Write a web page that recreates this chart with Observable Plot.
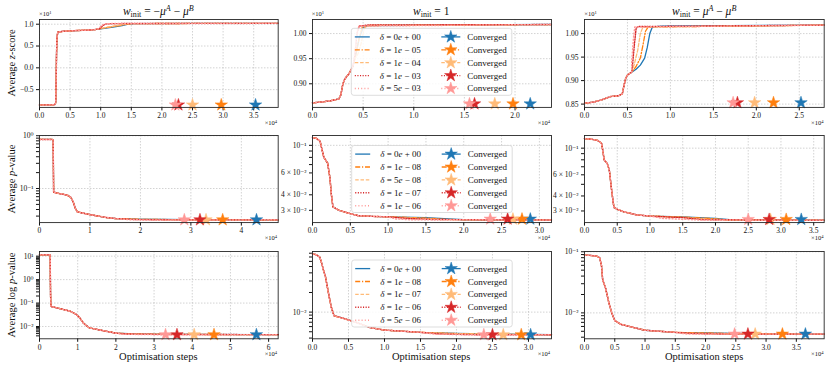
<!DOCTYPE html>
<html><head><meta charset="utf-8">
<script src="https://cdn.jsdelivr.net/npm/d3@7"></script>
<script src="https://cdn.jsdelivr.net/npm/@observablehq/plot@0.6"></script>
<style>
body{margin:0;background:#fff;}
#wrap{position:relative;width:830px;height:369px;overflow:hidden;font-family:"Liberation Serif","DejaVu Serif",serif;color:#111;}
#wrap svg.pn{position:absolute;}
.tx{position:absolute;white-space:nowrap;line-height:1;font-family:"Liberation Serif","DejaVu Serif",serif;font-weight:normal;color:#111;}
.tx sub,.tx sup{font-size:0.7em;line-height:0;}
.tx sub{vertical-align:-0.25em;}
.tx sup{vertical-align:0.55em;}
</style></head><body><div id="wrap"></div>
<script>
// ---------- data ----------
const COLORS = ["#1f77b4","#ff7f0e","#ffbb78","#d62728","#ff9896"];
const legend2 = ["0","1","1","1","5"], legend2e = ["+ 00","− 05","− 04","− 03","− 03"];
const legend5 = ["0","1","5","1","1"], legend5e = ["+ 00","− 08","− 08","− 07","− 06"];
const legend8 = ["0","1","1","1","5"], legend8e = ["+ 00","− 08","− 07","− 06","− 06"];

// panel 1: z-score, w_init = -muA - muB (x in 1e4, y in 1e1)
const p1_common = [[0,-0.85],[0.15,-0.85],[0.25,-0.845],[0.265,-0.8],[0.272,-0.3],[0.278,0.3],[0.285,0.7],[0.3,0.82],[0.4,0.84],[0.6,0.855],[0.8,0.865],[0.9,0.875]];
const p1_blue = [[1.0,0.895],[1.2,0.935],[1.35,0.97],[1.45,1.0],[1.55,1.015],[2.5,1.02],[3.9,1.02]];
const p1_orange = [[1.0,0.9],[1.2,0.945],[1.35,0.98],[1.45,1.005],[1.55,1.015],[3.9,1.02]];
const p1_ltorange = [[1.0,0.905],[1.2,0.955],[1.38,0.995],[1.5,1.015],[3.9,1.02]];
const p1_red = [[0.98,0.895],[1.03,0.96],[1.07,1.0],[1.15,1.012],[1.5,1.017],[3.9,1.02]];
const p1_pink = [[0.97,0.9],[1.02,0.975],[1.06,1.005],[1.2,1.015],[3.9,1.02]];
const stars1 = [3.53,2.97,2.5,2.27,2.22], starY1 = -0.85;

// panel 2: z-score, w_init = 1
const p2_common = [[0,0.862],[0.1,0.864],[0.2,0.867],[0.26,0.870],[0.28,0.878],[0.3,0.9],[0.32,0.91],[0.36,0.92],[0.4,0.935]];
const p2_blue = [[0.43,0.96],[0.46,0.99],[0.5,1.012],[0.55,1.016],[2.36,1.018]];
const p2_orange = [[0.43,0.96],[0.46,0.99],[0.49,1.012],[0.55,1.016],[2.36,1.018]];
const p2_ltorange = [[0.42,0.95],[0.45,0.96],[0.48,0.98],[0.51,1.01],[0.55,1.016],[2.36,1.018]];
const p2_red = [[0.42,0.96],[0.44,1.0],[0.46,1.015],[0.55,1.017],[2.36,1.018]];
const p2_pink = [[0.42,0.965],[0.44,1.005],[0.46,1.015],[2.36,1.018]];
const stars2 = [2.15,1.98,1.8,1.6,1.55], starY2 = 0.86;

// panel 3: z-score, w_init = muA - muB
const p3_common = [[0,0.852],[0.1,0.854],[0.2,0.859],[0.3,0.866],[0.4,0.868],[0.44,0.872],[0.46,0.89],[0.48,0.905],[0.5,0.912],[0.55,0.918]];
const p3_blue = [[0.6,0.924],[0.65,0.933],[0.7,0.948],[0.73,0.97],[0.76,1.0],[0.79,1.014],[0.9,1.016],[2.79,1.018]];
const p3_orange = [[0.6,0.93],[0.65,0.948],[0.68,0.975],[0.71,1.005],[0.74,1.014],[2.79,1.018]];
const p3_ltorange = [[0.58,0.935],[0.62,0.965],[0.65,1.0],[0.68,1.014],[2.79,1.018]];
const p3_red = [[0.56,0.935],[0.58,0.975],[0.6,1.01],[0.62,1.015],[2.79,1.018]];
const p3_pink = [[0.55,0.94],[0.57,0.99],[0.585,1.014],[2.79,1.018]];
const stars3 = [2.52,2.2,1.98,1.78,1.73], starY3 = 0.853;

// panel 4: p-value
const p4_common = [[0,0.85],[0.24,0.85],[0.27,0.84],[0.275,0.3],[0.28,0.085],[0.4,0.08],[0.55,0.075],[0.62,0.068],[0.67,0.055],[0.71,0.042],[0.75,0.036],[1.0,0.032],[1.3,0.0285],[1.5,0.027]];
const p4_blue = [[2.0,0.0262],[3.0,0.0257],[4.73,0.0255]];
const p4_orange = [[2.0,0.0261],[3.0,0.0256],[4.73,0.0255]];
const p4_ltorange = [[2.0,0.026],[2.8,0.0256],[4.73,0.0255]];
const p4_red = [[1.9,0.0258],[2.6,0.0255],[4.73,0.0255]];
const p4_pink = [[1.8,0.0256],[2.3,0.0252],[4.73,0.0255]];
const stars4 = [4.3,3.63,3.3,3.18,2.87], starY4 = 0.0255;

// panel 5
const p5_common = [[0,0.115],[0.05,0.114],[0.1,0.108],[0.13,0.09],[0.15,0.08],[0.2,0.072],[0.23,0.055],[0.25,0.04],[0.27,0.032],[0.35,0.030],[0.5,0.0282],[0.6,0.0272],[0.8,0.0268],[1.0,0.0266]];
const p5_blue = [[1.5,0.0262],[1.8,0.0256],[2.0,0.0252],[3.16,0.0251]];
const p5_orange = [[1.5,0.026],[1.75,0.0254],[2.0,0.0252],[3.16,0.0251]];
const p5_ltorange = [[1.4,0.0258],[1.7,0.0253],[3.16,0.0251]];
const p5_red = [[1.3,0.0257],[1.6,0.0253],[3.16,0.0251]];
const p5_pink = [[1.1,0.0256],[1.3,0.0252],[3.16,0.0251]];
const stars5 = [2.88,2.77,2.65,2.58,2.35], starY5 = 0.0255;

// panel 6
const p6_common = [[0,0.12],[0.1,0.119],[0.2,0.116],[0.26,0.11],[0.28,0.095],[0.3,0.08],[0.35,0.074],[0.38,0.065],[0.42,0.042],[0.45,0.032],[0.5,0.031],[0.6,0.0295],[0.8,0.0278],[1.0,0.0272]];
const p6_blue = [[1.5,0.0268],[2.0,0.026],[2.3,0.0252],[3.66,0.0251]];
const p6_orange = [[1.5,0.0267],[2.0,0.0258],[2.2,0.0252],[3.66,0.0251]];
const p6_ltorange = [[1.5,0.0265],[1.9,0.0255],[3.66,0.0251]];
const p6_red = [[1.5,0.0264],[1.8,0.0254],[3.66,0.0251]];
const p6_pink = [[1.2,0.026],[1.5,0.0256],[1.8,0.0252],[3.66,0.0251]];
const stars6 = [3.31,3.08,2.84,2.82,2.5], starY6 = 0.0255;

// panel 7: log p-value
const p7_common = [[0,11.5],[0.25,11.5],[0.28,11],[0.285,1],[0.29,0.2],[0.3,0.072],[0.5,0.06],[0.8,0.045],[0.95,0.034],[1.05,0.024],[1.15,0.014],[1.3,0.0088],[1.6,0.007],[2.0,0.0052]];
const p7_blue = [[2.5,0.0048],[4.0,0.0046],[6.25,0.0045]];
const p7_orange = [[2.5,0.0048],[3.8,0.0046],[6.25,0.0045]];
const p7_ltorange = [[2.4,0.0048],[3.5,0.0046],[6.25,0.0045]];
const p7_red = [[2.3,0.0048],[3.2,0.0046],[6.25,0.0045]];
const p7_pink = [[2.2,0.0047],[3.0,0.0045],[6.25,0.0045]];
const stars7 = [5.68,4.57,4.05,3.6,3.3], starY7 = 0.0045;

// panel 8
const p8_common = [[0,0.078],[0.05,0.076],[0.1,0.07],[0.13,0.055],[0.15,0.045],[0.18,0.035],[0.22,0.02],[0.26,0.012],[0.3,0.0088],[0.4,0.0082],[0.6,0.007],[0.8,0.0058],[1.0,0.0053],[1.5,0.0049]];
const p8_blue = [[2.0,0.0047],[2.6,0.0046],[3.32,0.0045]];
const p8_orange = [[2.0,0.0047],[2.5,0.0046],[3.32,0.0045]];
const p8_ltorange = [[1.9,0.0047],[2.4,0.0046],[3.32,0.0045]];
const p8_red = [[1.8,0.0046],[2.3,0.0045],[3.32,0.0045]];
const p8_pink = [[1.7,0.0046],[2.2,0.0045],[3.32,0.0045]];
const stars8 = [3.03,2.9,2.65,2.5,2.38], starY8 = 0.0045;

// panel 9
const p9_common = [[0,0.088],[0.1,0.087],[0.2,0.085],[0.25,0.08],[0.28,0.06],[0.3,0.035],[0.35,0.025],[0.4,0.015],[0.45,0.01],[0.5,0.0075],[0.6,0.0065],[0.8,0.0058],[1.0,0.0052],[1.5,0.0048]];
const p9_blue = [[2.0,0.0047],[2.5,0.0046],[3.96,0.0045]];
const p9_orange = [[2.0,0.0047],[2.4,0.0046],[3.96,0.0045]];
const p9_ltorange = [[1.9,0.0046],[2.4,0.0045],[3.96,0.0045]];
const p9_red = [[1.8,0.0046],[2.3,0.0045],[3.96,0.0045]];
const p9_pink = [[1.7,0.0045],[2.2,0.0045],[3.96,0.0045]];
const stars9 = [3.65,3.27,2.82,2.7,2.48], starY9 = 0.0045;

// ticks
const xt1 = [0,0.5,1,1.5,2,2.5,3,3.5];
const xt2 = [0,0.5,1,1.5,2];
const xt3 = [0,0.5,1,1.5,2,2.5];
const xt4 = [0,1,2,3,4];
const xt5 = [0,0.5,1,1.5,2,2.5,3];
const xt6 = [0,0.5,1,1.5,2,2.5,3,3.5];
const xt7 = [0,1,2,3,4,5,6];
const xt8 = [0,0.5,1,1.5,2,2.5,3];
const xt9 = [0,0.5,1,1.5,2,2.5,3,3.5];
const yt1 = [-0.5,0,0.5,1.0];
const yt2 = [0.90,0.95,1.00];
const yt3 = [0.85,0.90,0.95,1.00];
const yt4 = [1,0.1], ym4 = [0.03,0.04,0.05,0.06,0.07,0.08,0.09,0.2,0.3,0.4,0.5,0.6,0.7,0.8,0.9];
const yt5 = [0.1], ym5 = [0.03,0.04,0.05,0.06,0.07,0.08,0.09];
const yt6 = [0.1], ym6 = [0.03,0.04,0.05,0.06,0.07,0.08,0.09];
const yt7 = [10,1,0.1,0.01], ym7 = [0.004,0.005,0.006,0.007,0.008,0.009,0.02,0.03,0.04,0.05,0.06,0.07,0.08,0.09,0.2,0.3,0.4,0.5,0.6,0.7,0.8,0.9,2,3,4,5,6,7,8,9];
const yt8 = [0.01], ym8 = [0.004,0.005,0.006,0.007,0.008,0.009,0.02,0.03,0.04,0.05,0.06,0.07,0.08];
const yt9 = [0.1,0.01], ym9 = [0.004,0.005,0.006,0.007,0.008,0.009,0.02,0.03,0.04,0.05,0.06,0.07,0.08,0.09];
const labeledMinor56 = [3,4,6];

// ---------- layout ----------
const FONT = '"Liberation Serif","DejaVu Serif",serif';
const COLS = [[39,277.7],[311.7,550.7],[584.3,824]];
const ROWS = [[19.3,107.2],[135.2,222.3],[251,338.3]];
const DASHES = [undefined,"5,1.8,1.2,1.8","3.5,1.8","1.1,1.5","1,2.2"];
const WIDTHS = [1.3,1.3,1.3,1.4,1.5];
const SUP = {"-":"⁻","0":"⁰","1":"¹","2":"²","3":"³","4":"⁴","5":"⁵","6":"⁶","7":"⁷","8":"⁸","9":"⁹"};
function logFmt(lab){return v=>{const k=Math.floor(Math.log10(v)+1e-9);const m=Math.round(v/Math.pow(10,k));const e="10"+String(k).split("").map(c=>SUP[c]).join("");if(m===1)return e;if(lab.includes(m))return m+" × "+e;return "";};}

const panels = [
 {c:0,r:0,s:[p1_blue,p1_orange,p1_ltorange,p1_red,p1_pink],h:p1_common,xd:[0,3.9],xt:xt1,xf:".1f",yl:"linear",yd:[-0.907,1.108],yt:yt1,ym:[],yf:d3.format(".1f"),st:stars1,sy:starY1},
 {c:1,r:0,s:[p2_blue,p2_orange,p2_ltorange,p2_red,p2_pink],h:p2_common,xd:[0,2.36],xt:xt2,xf:".1f",yl:"linear",yd:[0.853,1.028],yt:yt2,ym:[],yf:d3.format(".2f"),st:stars2,sy:starY2},
 {c:2,r:0,s:[p3_blue,p3_orange,p3_ltorange,p3_red,p3_pink],h:p3_common,xd:[0,2.79],xt:xt3,xf:".1f",yl:"linear",yd:[0.843,1.03],yt:yt3,ym:[],yf:d3.format(".2f"),st:stars3,sy:starY3},
 {c:0,r:1,s:[p4_blue,p4_orange,p4_ltorange,p4_red,p4_pink],h:p4_common,xd:[0,4.73],xt:xt4,xf:"d",yl:"log",yd:[0.0226,1.01],yt:yt4,ym:ym4,yf:logFmt([]),st:stars4,sy:starY4},
 {c:1,r:1,s:[p5_blue,p5_orange,p5_ltorange,p5_red,p5_pink],h:p5_common,xd:[0,3.16],xt:xt5,xf:".1f",yl:"log",yd:[0.0239,0.12],yt:yt5,ym:ym5,yf:logFmt(labeledMinor56),st:stars5,sy:starY5},
 {c:2,r:1,s:[p6_blue,p6_orange,p6_ltorange,p6_red,p6_pink],h:p6_common,xd:[0,3.66],xt:xt6,xf:".1f",yl:"log",yd:[0.024,0.1275],yt:yt6,ym:ym6,yf:logFmt(labeledMinor56),st:stars6,sy:starY6},
 {c:0,r:2,s:[p7_blue,p7_orange,p7_ltorange,p7_red,p7_pink],h:p7_common,xd:[0,6.25],xt:xt7,xf:"d",yl:"log",yd:[0.003,15.8],yt:yt7,ym:ym7,yf:logFmt([]),st:stars7,sy:starY7},
 {c:1,r:2,s:[p8_blue,p8_orange,p8_ltorange,p8_red,p8_pink],h:p8_common,xd:[0,3.32],xt:xt8,xf:".1f",yl:"log",yd:[0.0039,0.085],yt:yt8,ym:ym8,yf:logFmt([]),st:stars8,sy:starY8},
 {c:2,r:2,s:[p9_blue,p9_orange,p9_ltorange,p9_red,p9_pink],h:p9_common,xd:[0,3.96],xt:xt9,xf:".1f",yl:"log",yd:[0.00377,0.101],yt:yt9,ym:ym9,yf:logFmt([]),st:stars9,sy:starY9}
];

const wrap = document.getElementById("wrap");
const grid = {stroke:"#b5b5b5", strokeWidth:0.6, strokeDasharray:"1.5,1.5"};

function addText(html, style){
  const d = document.createElement("div");
  d.className = "tx"; d.innerHTML = html; Object.assign(d.style, style); wrap.appendChild(d); return d;
}

panels.forEach(p=>{
  const [L,R] = COLS[p.c], [T,B] = ROWS[p.r];
  const mL = p.c===0 ? 38 : 30, mR = 4, mT = 6, mB = 14;
  const marks = [
    Plot.ruleX(p.xt, {x:d=>d, ...grid}),
    Plot.ruleY(p.yt, {y:d=>d, ...grid})
  ];
  p.s.forEach((tail,i)=>{
    marks.push(Plot.line(p.h.concat(tail), {x:d=>d[0], y:d=>d[1], stroke:COLORS[i], strokeWidth:WIDTHS[i], strokeDasharray:DASHES[i]}));
  });
  p.st.forEach((sx,i)=>{
    marks.push(Plot.dot([[sx,p.sy]], {x:d=>d[0], y:d=>d[1], symbol:"star", r:3.9, fill:COLORS[i], stroke:COLORS[i], strokeWidth:0.5}));
  });
  marks.push(Plot.frame({stroke:"#262626", strokeWidth:0.9}));
  const svg = Plot.plot({
    width: (R-L)+mL+mR, height: (B-T)+mT+mB,
    marginLeft:mL, marginRight:mR, marginTop:mT, marginBottom:mB,
    x:{domain:p.xd, ticks:p.xt, tickFormat:d3.format(p.xf), tickSize:3.5, tickPadding:2, label:null},
    y:{type:p.yl, domain:p.yd, ticks:p.yt.concat(p.ym), tickFormat:p.yf, tickSize:3, tickPadding:3, label:null},
    style:{background:"transparent", fontFamily:FONT, fontSize:"7.5px", color:"#111", overflow:"visible"},
    marks
  });
  svg.classList.add("pn");
  svg.style.left = (L-mL)+"px";
  svg.style.top = (T-mT)+"px";
  wrap.appendChild(svg);
  addText("×10<sup>4</sup>", {left:(R-13)+"px", top:(B+13)+"px", fontSize:"6.5px"});
  if (p.r===0) addText("×10<sup>1</sup>", {left:L+"px", top:(T-8)+"px", fontSize:"6.5px"});
});

// titles
const titles = [
  '<i>w</i><sub>init</sub> = −<i>μ</i><sup><i>A</i></sup> − <i>μ</i><sup><i>B</i></sup>',
  '<i>w</i><sub>init</sub> = 1',
  '<i>w</i><sub>init</sub> = <i>μ</i><sup><i>A</i></sup> − <i>μ</i><sup><i>B</i></sup>'
];
titles.forEach((t,i)=>{
  const cx = (COLS[i][0]+COLS[i][1])/2;
  addText(t, {left:cx+"px", top:"12px", fontSize:"11.5px", transform:"translate(-50%,-50%)"});
});
// y labels
const ylabels = ['Average <i>z</i>-score','Average <i>p</i>-value','Average log <i>p</i>-value'];
ylabels.forEach((t,i)=>{
  const cy = (ROWS[i][0]+ROWS[i][1])/2;
  addText(t, {left:"12px", top:cy+"px", fontSize:"10.5px", transform:"translate(-50%,-50%) rotate(-90deg)"});
});
// x labels
COLS.forEach(([L,R])=>{
  addText('Optimisation steps', {left:((L+R)/2)+"px", top:"357px", fontSize:"10.5px", transform:"translate(-50%,-50%)"});
});

// legends
const ov = d3.select(wrap).append("svg").attr("width",830).attr("height",369)
  .style("position","absolute").style("left","0px").style("top","0px");
function legend(x0,y0,mant,exps){
  const g = ov.append("g").attr("transform",`translate(${x0},${y0})`);
  g.append("rect").attr("width",160.5).attr("height",67).attr("rx",2.5)
    .attr("fill","white").attr("fill-opacity",0.85).attr("stroke","#d4d4d4").attr("stroke-width",0.8);
  const star = d3.symbol(d3.symbolStar, Math.PI*3.9*3.9)();
  for(let i=0;i<5;i++){
    const y = 8.6 + i*12.9;
    const ln = (a,b)=>g.append("line").attr("x1",a).attr("x2",b).attr("y1",y).attr("y2",y)
      .attr("stroke",COLORS[i]).attr("stroke-width",WIDTHS[i]).attr("stroke-dasharray",DASHES[i]||null);
    ln(3.5,18.5);
    const t = g.append("text").attr("x",28.5).attr("y",y+3)
      .attr("font-family",FONT).attr("font-size",9).attr("fill","#111");
    t.append("tspan").attr("font-style","italic").text("δ");
    t.append("tspan").text(" = " + mant[i]);
    t.append("tspan").attr("font-style","italic").text("e");
    t.append("tspan").text(" " + exps[i]);
    ln(90,109);
    g.append("path").attr("d",star).attr("transform",`translate(99.5,${y})`)
      .attr("fill",COLORS[i]).attr("stroke",COLORS[i]).attr("stroke-width",0.5);
    g.append("text").attr("x",116).attr("y",y+3)
      .attr("font-family",FONT).attr("font-size",9).attr("fill","#111").text("Converged");
  }
}
legend(351.3,28.3,legend2,legend2e);
legend(351.7,145.5,legend5,legend5e);
legend(351.7,260,legend8,legend8e);
</script></body></html>
